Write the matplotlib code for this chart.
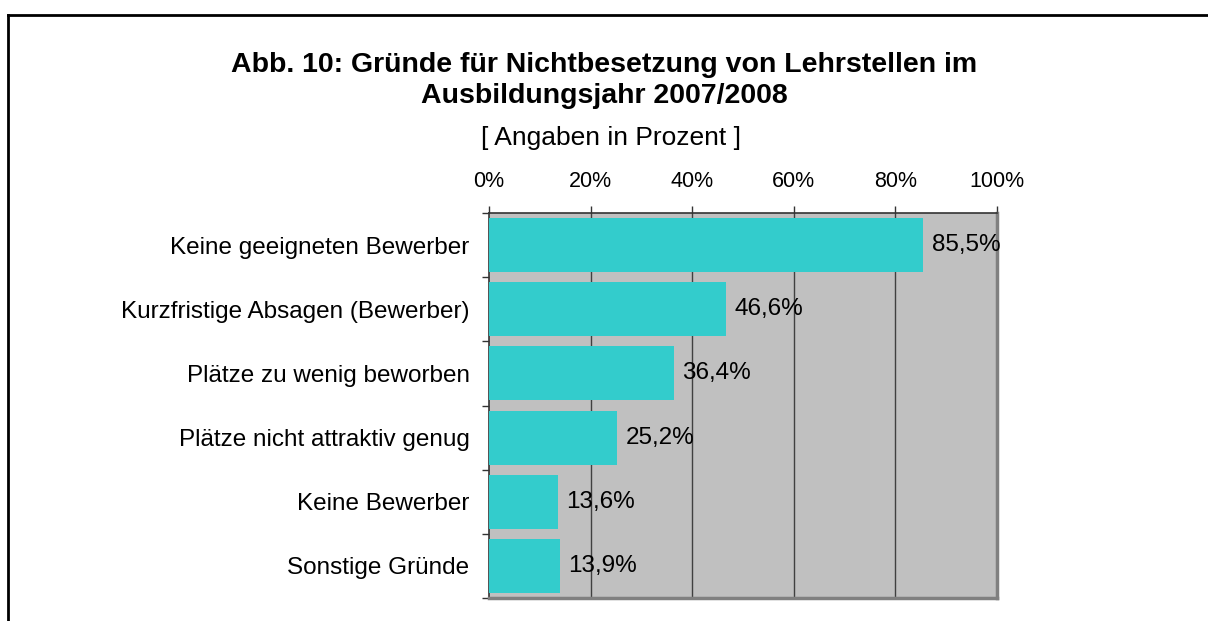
import matplotlib.pyplot as plt
from matplotlib.lines import Line2D
from matplotlib.ticker import FixedLocator

plt.rcParams['font.family'] = ['Liberation Sans', 'DejaVu Sans']

# Data
categories = ['Keine geeigneten Bewerber',
              'Kurzfristige Absagen (Bewerber)',
              'Plätze zu wenig beworben',
              'Plätze nicht attraktiv genug',
              'Keine Bewerber',
              'Sonstige Gründe']
values = [85.5, 46.6, 36.4, 25.2, 13.6, 13.9]
x_ticks = [0, 20, 40, 60, 80, 100]
x_tick_labels = ['0%', '20%', '40%', '60%', '80%', '100%']

W, H = 1208, 621
fig = plt.figure(figsize=(W / 100, H / 100), dpi=100)
ax = fig.add_axes([489 / W, 1 - 598 / H, (997 - 489) / W, (598 - 213) / H])
ax.set_facecolor('#C0C0C0')

y = list(range(len(categories)))
bars = ax.barh(y, values, height=0.84, color='#33CCCC', zorder=3)
ax.set_ylim(len(categories) - 0.5, -0.5)
ax.set_xlim(0, 100)

# vertical gridlines
for t in x_ticks[1:-1]:
    ax.axvline(t, color='#404040', linewidth=1, zorder=1)

# value labels
ax.bar_label(bars, labels=[f"{v:.1f}%".replace('.', ',') for v in values],
             padding=6, fontsize=17.5, zorder=4)

# axes: ticks on top, labels at top
ax.xaxis.tick_top()
ax.set_xticks(x_ticks)
ax.set_xticklabels(x_tick_labels, fontsize=15.5)
ax.tick_params(axis='x', length=5, width=1, color='#333333', pad=10)

ax.set_yticks(y)
ax.set_yticklabels(categories, fontsize=17.5)
ax.yaxis.set_minor_locator(FixedLocator([i - 0.5 for i in range(len(categories) + 1)]))
ax.tick_params(axis='y', which='major', length=0, pad=14)
ax.tick_params(axis='y', which='minor', length=5, width=1, color='#333333')

# chart border: dark top/left, grey shadow right/bottom
ax.spines['top'].set_color('#333333')
ax.spines['left'].set_color('#333333')
ax.spines['top'].set_linewidth(1.2)
ax.spines['left'].set_linewidth(1.2)
ax.spines['right'].set_color('#808080')
ax.spines['bottom'].set_color('#808080')
ax.spines['right'].set_linewidth(2.5)
ax.spines['bottom'].set_linewidth(2.5)

# titles
fig.text(0.5, 1 - 72 / H, 'Abb. 10: Gründe für Nichtbesetzung von Lehrstellen im',
         ha='center', va='baseline', fontsize=20.5, fontweight='bold')
fig.text(0.5, 1 - 103 / H, 'Ausbildungsjahr 2007/2008',
         ha='center', va='baseline', fontsize=20.5, fontweight='bold')
fig.text(611 / W, 1 - 145 / H, '[ Angaben in Prozent ]', ha='center', va='baseline', fontsize=19)

# outer frame (top and left edges)
x0 = 8 / W
y0 = 1 - 15 / H
fig.add_artist(Line2D([x0, x0], [0, y0], color='black', linewidth=2))
fig.add_artist(Line2D([x0, 1], [y0, y0], color='black', linewidth=2))

fig.savefig('out.png', dpi=100)
plt.close(fig)
